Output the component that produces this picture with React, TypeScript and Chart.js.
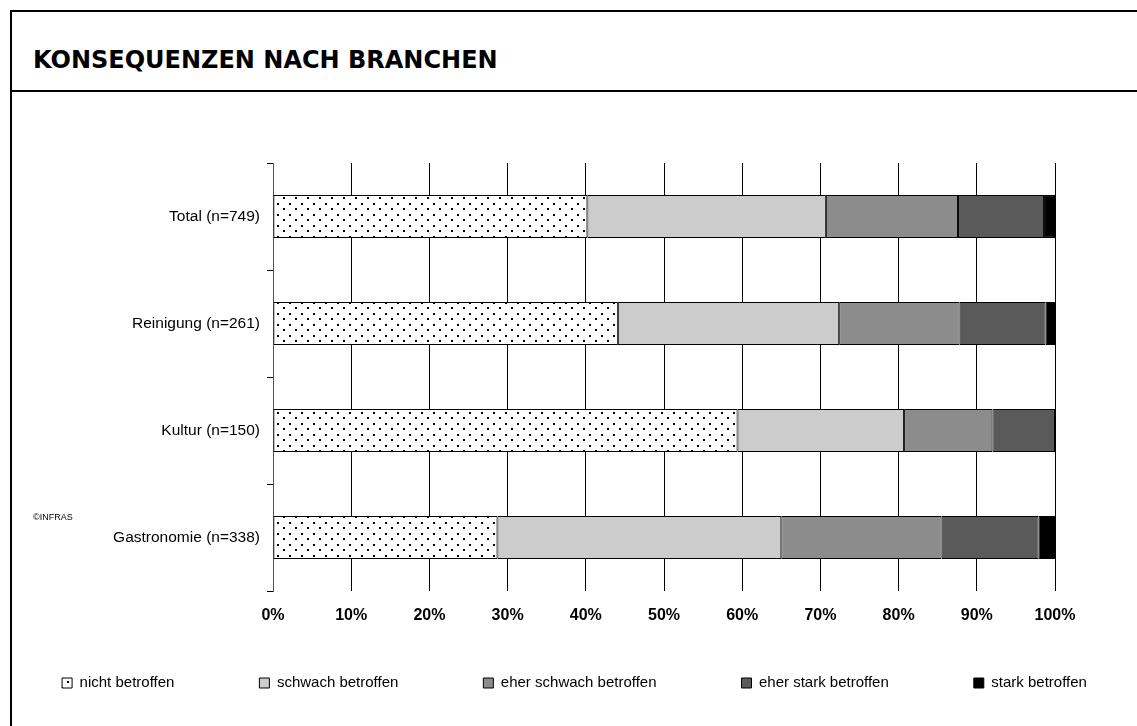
import React, { useEffect, useRef } from "react";
import { Chart, registerables } from "chart.js";

Chart.register(...registerables);

const categories = ["Total (n=749)", "Reinigung (n=261)", "Kultur (n=150)", "Gastronomie (n=338)"];
const seriesLabels = ["nicht betroffen", "schwach betroffen", "eher schwach betroffen", "eher stark betroffen", "stark betroffen"];
const nichtBetroffen = [40.2, 44.1, 59.4, 28.7];
const schwachBetroffen = [30.5, 28.3, 21.3, 36.3];
const eherSchwachBetroffen = [16.9, 15.4, 11.3, 20.5];
const eherStarkBetroffen = [11.0, 11.0, 8.0, 12.4];
const starkBetroffen = [1.4, 1.2, 0, 2.1];
const xTicks = [0, 10, 20, 30, 40, 50, 60, 70, 80, 90, 100];

const CANVAS_W = 1125;
const CANVAS_H = 634;
const LEGEND_PAD = 85;
const LEGEND_FONT = 15;
const LEGEND_CENTER_Y = 591;

function makeDotPattern(): CanvasPattern | string {
  const c = document.createElement("canvas");
  c.width = 12;
  c.height = 11;
  const g = c.getContext("2d");
  if (!g) return "#fff";
  g.fillStyle = "#fff";
  g.fillRect(0, 0, 12, 11);
  g.fillStyle = "#000";
  g.fillRect(1, 1, 2, 2);
  g.fillRect(7, 6, 2, 2);
  const p = g.createPattern(c, "repeat");
  return p || "#fff";
}

const copyrightPlugin = {
  id: "copyrightText",
  afterDraw(chart: any) {
    const ctx = chart.ctx;
    ctx.save();
    ctx.font = "9px 'Liberation Sans', Arial, sans-serif";
    ctx.fillStyle = "#000";
    ctx.textBaseline = "middle";
    ctx.textAlign = "left";
    ctx.fillText("©INFRAS", 21, 426);
    ctx.restore();
  },
};

const legendPlacePlugin = {
  id: "legendPlace",
  afterLayout(chart: any) {
    const lg = chart.legend;
    if (!lg) return;
    const ih = Math.max(LEGEND_FONT, 10);
    const extra = 600;
    lg.maxWidth = chart.width + 2 * extra;
    lg.left = -extra;
    lg.right = chart.width + extra;
    lg.fit();
    lg.left = -extra;
    lg.right = chart.width + extra;
    lg.width = chart.width + 2 * extra;
    lg.top = LEGEND_CENTER_Y - LEGEND_PAD - ih / 2;
    lg.bottom = lg.top + ih + LEGEND_PAD + 10;
    lg.height = lg.bottom - lg.top;
  },
};

export default function App() {
  const ref = useRef<HTMLCanvasElement | null>(null);

  useEffect(() => {
    if (!ref.current) return;
    const dots = makeDotPattern();
    const fills = [dots, "#cccccc", "#8c8c8c", "#5a5a5a", "#000000"];
    const values = [nichtBetroffen, schwachBetroffen, eherSchwachBetroffen, eherStarkBetroffen, starkBetroffen];
    const chart = new Chart(ref.current, {
      type: "bar",
      data: {
        labels: categories,
        datasets: values.map((v, i) => ({
          label: seriesLabels[i],
          data: v,
          backgroundColor: fills[i] as any,
          borderColor: "#000",
          borderWidth: 1,
          borderSkipped: false,
          categoryPercentage: 1,
          barPercentage: 0.4,
        })),
      },
      options: {
        indexAxis: "y",
        responsive: false,
        animation: false,
        devicePixelRatio: 1,
        layout: { padding: { top: 71, right: 82, bottom: 65, left: 0 } },
        scales: {
          x: {
            stacked: true,
            min: 0,
            max: 100,
            afterBuildTicks(scale: any) {
              scale.ticks = xTicks.map((v) => ({ value: v }));
            },
            afterFit(scale: any) {
              scale.height = 40;
            },
            grid: { color: "#000", lineWidth: 1, drawTicks: false, drawOnChartArea: true },
            border: { display: false },
            ticks: {
              padding: 15,
              color: "#000",
              font: { family: "'Liberation Sans', Arial, sans-serif", size: 16, weight: "bold" },
              callback: (v: any) => v + "%",
            },
          },
          y: {
            stacked: true,
            afterFit(scale: any) {
              scale.width = 261;
            },
            grid: { drawOnChartArea: false, drawTicks: true, tickLength: 6, color: "#000" },
            border: { display: true, color: "#555", width: 1 },
            ticks: {
              padding: 7,
              color: "#000",
              font: { family: "'Liberation Sans', Arial, sans-serif", size: 15.5 },
            },
          },
        },
        plugins: {
          tooltip: { enabled: false },
          title: { display: false },
          legend: {
            display: true,
            position: "bottom",
            maxHeight: 30,
            labels: {
              boxWidth: 10,
              boxHeight: 10,
              padding: LEGEND_PAD,
              color: "#000",
              font: { family: "'Liberation Sans', Arial, sans-serif", size: LEGEND_FONT },
            },
          },
        },
      },
      plugins: [copyrightPlugin, legendPlacePlugin],
    });
    return () => chart.destroy();
  }, []);

  return (
    <div style={{ position: "absolute", left: 0, top: 0, width: 1137, height: 726, overflow: "hidden", background: "#fff" }}>
      <div
        style={{
          position: "absolute",
          left: 10,
          top: 10,
          width: 1140,
          height: 730,
          borderLeft: "2px solid #000",
          borderTop: "2px solid #000",
          boxSizing: "border-box",
        }}
      />
      <div style={{ position: "absolute", left: 10, top: 90, width: 1140, height: 2, background: "#000" }} />
      <div
        style={{
          position: "absolute",
          left: 33,
          top: 46,
          fontFamily: "'DejaVu Sans', sans-serif",
          fontWeight: "bold",
          fontSize: 24,
          lineHeight: "28px",
          color: "#000",
          whiteSpace: "nowrap",
        }}
      >
        KONSEQUENZEN NACH BRANCHEN
      </div>
      <canvas ref={ref} width={CANVAS_W} height={CANVAS_H} style={{ position: "absolute", left: 12, top: 92, width: CANVAS_W, height: CANVAS_H }} />
    </div>
  );
}
